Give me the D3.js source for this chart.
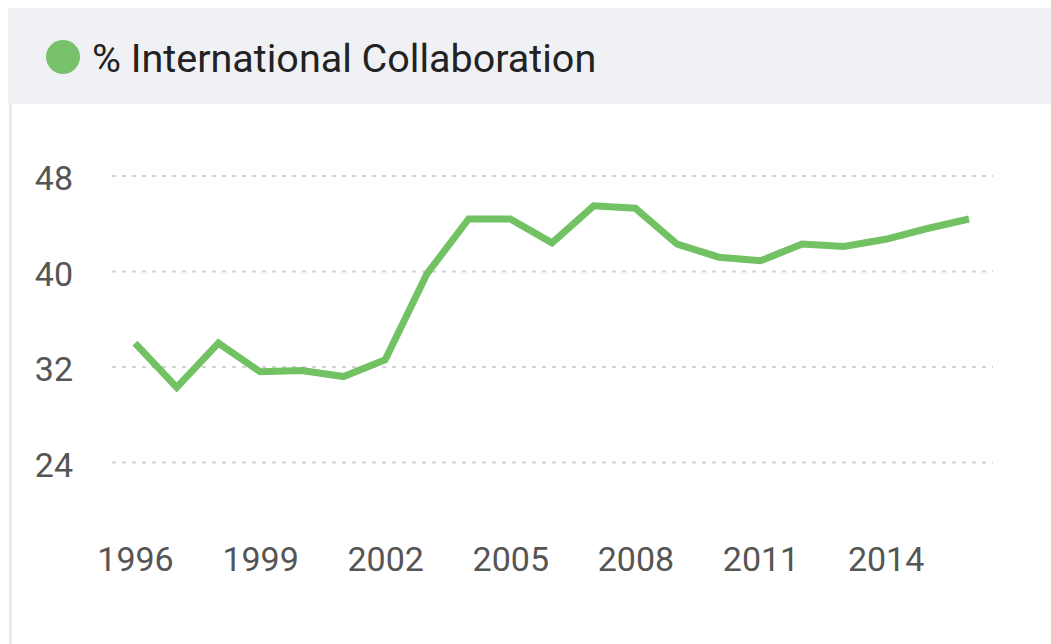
<!DOCTYPE html>
<html>
<head>
<meta charset="utf-8">
<script src="https://cdn.jsdelivr.net/npm/d3@7"></script>
<style>
  body { margin: 0; background: #fff; }
  .chart text { font-family: Roboto, "Noto Sans", sans-serif; }
</style>
</head>
<body>
<div class="chart"></div>
<script>
'use strict';
var years = [1996,1997,1998,1999,2000,2001,2002,2003,2004,2005,2006,2007,2008,2009,2010,2011,2012,2013,2014,2015,2016];
var collab = [34.0,30.3,34.0,31.6,31.7,31.2,32.6,39.8,44.4,44.4,42.4,45.5,45.3,42.3,41.2,40.9,42.3,42.1,42.7,43.6,44.4];
var yTicks = [24,32,40,48];
var xTicks = [1996,1999,2002,2005,2008,2011,2014];
var title = "% International Collaboration";

var W = 1051, H = 644;
var svg = d3.select(".chart").append("svg")
  .attr("width", W).attr("height", H);

// header band
svg.append("rect").attr("x", 8).attr("y", 8).attr("width", W - 8).attr("height", 96)
  .attr("fill", "#f0f1f5");
svg.append("line").attr("x1", 10.5).attr("x2", 10.5).attr("y1", 104).attr("y2", H)
  .attr("stroke", "#e2e3e8").attr("stroke-width", 2);

svg.append("circle").attr("cx", 63).attr("cy", 57).attr("r", 17).attr("fill", "#77c16a");
svg.append("text").attr("x", 92).attr("y", 72)
  .attr("font-size", 39.5).attr("fill", "#222")
  .text(title);

var x = d3.scaleLinear().domain([1996, 2016]).range([135, 969]);
var y = d3.scaleLinear().domain([24, 48]).range([462.5, 176]);

// grid
svg.append("g").selectAll("line").data(yTicks).enter().append("line")
  .attr("x1", 112).attr("x2", 993)
  .attr("y1", d => y(d)).attr("y2", d => y(d))
  .attr("stroke", "#d2d2d2").attr("stroke-width", 2)
  .attr("stroke-dasharray", "4,6");

var yAxis = d3.axisLeft(y).tickValues(yTicks).tickSize(0).tickPadding(0);
svg.append("g").attr("transform", "translate(73,3)").call(yAxis)
  .call(g => g.select(".domain").remove())
  .selectAll("text").attr("font-size", 34).attr("fill", "#555")
  .attr("font-family", "Roboto, sans-serif");

var xAxis = d3.axisBottom(x).tickValues(xTicks).tickFormat(d3.format("d")).tickSize(0).tickPadding(0);
svg.append("g").attr("transform", "translate(0,547)").call(xAxis)
  .call(g => g.select(".domain").remove())
  .selectAll("text").attr("font-size", 34).attr("fill", "#555")
  .attr("font-family", "Roboto, sans-serif");

var line = d3.line().x((d, i) => x(years[i])).y(d => y(d));
svg.append("path").datum(collab)
  .attr("d", line)
  .attr("fill", "none")
  .attr("stroke", "#72c264")
  .attr("stroke-width", 7)
  .attr("stroke-linejoin", "miter");
</script>
</body>
</html>
